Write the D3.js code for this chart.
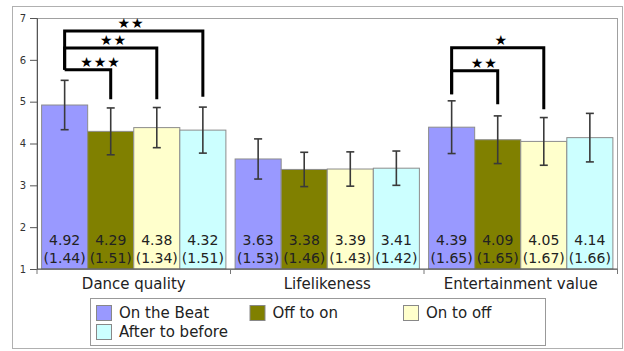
<!DOCTYPE html>
<html>
<head>
<meta charset="utf-8">
<script src="https://cdn.jsdelivr.net/npm/d3@7"></script>
<style>
  html, body { margin: 0; padding: 0; background: #fff; }
  svg { display: block; font-family: "DejaVu Sans", Verdana, sans-serif; }
</style>
</head>
<body>
<svg id="chart" width="624" height="351"></svg>
<script>
// Rating categories and experimental conditions
const categories = ["Dance quality", "Lifelikeness", "Entertainment value"];
const conditions = ["On the Beat", "Off to on", "On to off", "After to before"];

// Mean ratings per condition, one entry per category
const meanOnBeat      = [4.92, 3.63, 4.39];
const meanOffToOn     = [4.29, 3.38, 4.09];
const meanOnToOff     = [4.38, 3.39, 4.05];
const meanAfterBefore = [4.32, 3.41, 4.14];

// Standard deviations (printed in parentheses)
const sdOnBeat      = [1.44, 1.53, 1.65];
const sdOffToOn     = [1.51, 1.46, 1.65];
const sdOnToOff     = [1.34, 1.43, 1.67];
const sdAfterBefore = [1.51, 1.42, 1.66];

// Error-bar half widths
const errOnBeat      = [0.59, 0.48, 0.63];
const errOffToOn     = [0.56, 0.41, 0.57];
const errOnToOff     = [0.48, 0.41, 0.57];
const errAfterBefore = [0.55, 0.41, 0.58];

// Y axis ticks
const yTicks = [1, 2, 3, 4, 5, 6, 7];

// Significance brackets: category, compared conditions, bracket level, drop ends, stars
const sigCategory = ["Dance quality", "Dance quality", "Dance quality", "Entertainment value", "Entertainment value"];
const sigFrom     = ["On the Beat", "On the Beat", "On the Beat", "On the Beat", "On the Beat"];
const sigTo       = ["Off to on", "On to off", "After to before", "Off to on", "On to off"];
const sigLevel    = [5.76, 6.28, 6.69, 5.74, 6.29];
const sigFromEnd  = [5.76, 5.76, 5.76, 5.18, 5.18];
const sigToEnd    = [5.06, 5.06, 5.12, 4.94, 4.82];
const sigStars    = ["★★★", "★★", "★★", "★★", "★"];

const colors = ["#9999ff", "#808000", "#ffffcc", "#ccffff"];

const means = [meanOnBeat, meanOffToOn, meanOnToOff, meanAfterBefore];
const sds   = [sdOnBeat, sdOffToOn, sdOnToOff, sdAfterBefore];
const errs  = [errOnBeat, errOffToOn, errOnToOff, errAfterBefore];

const rows = [];
categories.forEach((c, ci) => {
  conditions.forEach((s, si) => {
    rows.push({ cat: c, cond: s, si, mean: means[si][ci], sd: sds[si][ci], err: errs[si][ci] });
  });
});

const svg = d3.select("#chart");
const plot = { left: 37, right: 617.5, top: 18, bottom: 269 };

const x0 = d3.scaleBand().domain(categories).range([plot.left, plot.right]).paddingInner(0).paddingOuter(0);
const x1 = d3.scaleBand().domain(conditions).range([0, x0.bandwidth()]).paddingInner(0).paddingOuter(0.1);
const y = d3.scaleLinear().domain([1, 7]).range([plot.bottom, plot.top]);
const color = d3.scaleOrdinal().domain(conditions).range(colors);

// Outer frame
svg.append("rect")
  .attr("x", 12.5).attr("y", 6.5).attr("width", 610).attr("height", 342)
  .attr("fill", "none").attr("stroke", "#b0b0b0").attr("stroke-width", 1);

// Plot frame
svg.append("rect")
  .attr("x", plot.left).attr("y", plot.top + 0.5)
  .attr("width", plot.right - plot.left).attr("height", plot.bottom - plot.top)
  .attr("fill", "none").attr("stroke", "#a0a0a0").attr("stroke-width", 1);

// Bars
const barX = d => x0(d.cat) + x1(d.cond);
svg.append("g").selectAll("rect").data(rows).join("rect")
  .attr("x", barX)
  .attr("y", d => y(d.mean))
  .attr("width", x1.bandwidth())
  .attr("height", d => y(1) - y(d.mean))
  .attr("fill", d => color(d.cond))
  .attr("stroke", "#8c8c8c")
  .attr("stroke-width", 1);

// Error bars
const eg = svg.append("g").attr("stroke", "#3a3a3a").attr("stroke-width", 1.6);
rows.forEach(d => {
  const cx = barX(d) + x1.bandwidth() / 2;
  const t = y(d.mean + d.err), b = y(d.mean - d.err);
  eg.append("line").attr("x1", cx).attr("x2", cx).attr("y1", t).attr("y2", b);
  eg.append("line").attr("x1", cx - 4).attr("x2", cx + 4).attr("y1", t).attr("y2", t);
  eg.append("line").attr("x1", cx - 4).attr("x2", cx + 4).attr("y1", b).attr("y2", b);
});

// Value labels inside bars
const lg = svg.append("g").attr("font-size", 14).attr("fill", "#222").attr("text-anchor", "middle");
rows.forEach(d => {
  const cx = barX(d) + x1.bandwidth() / 2;
  lg.append("text").attr("x", cx).attr("y", 245).text(d.mean.toFixed(2));
  lg.append("text").attr("x", cx).attr("y", 263).text("(" + d.sd.toFixed(2) + ")");
});

// Y axis
const yAxis = d3.axisLeft(y).tickValues(yTicks).tickSize(7).tickPadding(4).tickFormat(d3.format("d"));
const ya = svg.append("g").attr("transform", `translate(${plot.left},0)`).call(yAxis);
ya.select(".domain").attr("stroke", "#555");
ya.selectAll(".tick line").attr("stroke", "#555");
ya.selectAll(".tick text").attr("font-size", 10).attr("fill", "#333").attr("font-family", "DejaVu Sans");

// X axis: baseline, boundary ticks and category labels
const xa = svg.append("g");
xa.append("line").attr("x1", plot.left).attr("x2", plot.right)
  .attr("y1", plot.bottom).attr("y2", plot.bottom).attr("stroke", "#555");
const bounds = categories.map(c => x0(c)).concat([plot.right]);
xa.selectAll("line.b").data(bounds).join("line").attr("class", "b")
  .attr("x1", d => d).attr("x2", d => d)
  .attr("y1", plot.bottom).attr("y2", plot.bottom + 5).attr("stroke", "#777");
xa.selectAll("text").data(categories).join("text")
  .attr("x", d => x0(d) + x0.bandwidth() / 2)
  .attr("y", 288.5)
  .attr("text-anchor", "middle")
  .attr("font-size", 15)
  .attr("fill", "#222")
  .text(d => d);

// Significance brackets
const starPos = [0.78, 0.53, 0.48, 0.71, 0.54];
const sg = svg.append("g");
sigCategory.forEach((c, i) => {
  const xa_ = x0(c) + x1(sigFrom[i]) + x1.bandwidth() / 2;
  const xb_ = x0(c) + x1(sigTo[i]) + x1.bandwidth() / 2;
  const yl = y(sigLevel[i]);
  sg.append("path")
    .attr("d", `M${xa_},${y(sigFromEnd[i])}V${yl}H${xb_}V${y(sigToEnd[i])}`)
    .attr("fill", "none").attr("stroke", "#000").attr("stroke-width", 3)
    .attr("stroke-linejoin", "miter").attr("stroke-linecap", "butt");
  sg.append("text")
    .attr("x", xa_ + (xb_ - xa_) * starPos[i])
    .attr("y", yl - 3)
    .attr("text-anchor", "middle")
    .attr("font-size", 14)
    .attr("letter-spacing", 1)
    .attr("fill", "#000")
    .text(sigStars[i]);
});

// Legend
const leg = svg.append("g");
leg.append("rect").attr("x", 90.5).attr("y", 298.5).attr("width", 455).attr("height", 47)
  .attr("fill", "#fff").attr("stroke", "#999");
const legPos = [[96, 305], [249.5, 305], [403, 305], [96, 324]];
conditions.forEach((s, i) => {
  const [lx, ly] = legPos[i];
  leg.append("rect").attr("x", lx + 0.5).attr("y", ly + 0.5).attr("width", 15).attr("height", 15)
    .attr("fill", color(s)).attr("stroke", "#888");
  leg.append("text").attr("x", lx + 23).attr("y", ly + 13).attr("font-size", 15).attr("fill", "#222").text(s);
});
</script>
</body>
</html>
